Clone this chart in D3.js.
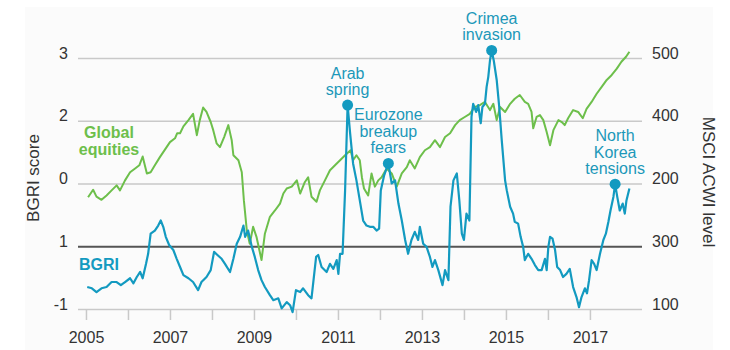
<!DOCTYPE html>
<html>
<head>
<meta charset="utf-8">
<script src="https://cdn.jsdelivr.net/npm/d3@7"></script>
<style>
  body { margin: 0; background: #fff; }
  text { font-family: "Liberation Sans", Arial, sans-serif; }
</style>
</head>
<body>
<div id="chart"></div>
<script>
// BGRI (left scale) — [year, score]
const bgriDates = [
  2005.03, 2005.14, 2005.25, 2005.37, 2005.49, 2005.61, 2005.73, 2005.83, 2005.93, 2006.05,
  2006.13, 2006.21, 2006.29, 2006.35, 2006.43, 2006.48, 2006.54, 2006.64, 2006.72, 2006.78,
  2006.84, 2006.90, 2006.98, 2007.08, 2007.16, 2007.24, 2007.32, 2007.44, 2007.55, 2007.67,
  2007.75, 2007.87, 2007.97, 2008.05, 2008.13, 2008.23, 2008.31, 2008.43, 2008.51, 2008.59,
  2008.67, 2008.75, 2008.79, 2008.86, 2008.95, 2009.02, 2009.10, 2009.18, 2009.26, 2009.38,
  2009.46, 2009.58, 2009.66, 2009.78, 2009.86, 2009.92, 2010.00, 2010.10, 2010.17, 2010.29,
  2010.37, 2010.48, 2010.53, 2010.61, 2010.73, 2010.81, 2010.89, 2010.97, 2011.01, 2011.05,
  2011.11, 2011.17, 2011.23, 2011.29, 2011.36, 2011.44, 2011.52, 2011.60, 2011.68, 2011.76,
  2011.84, 2011.92, 2011.98, 2012.02, 2012.10, 2012.20, 2012.28, 2012.36, 2012.44, 2012.52,
  2012.60, 2012.67, 2012.75, 2012.83, 2012.91, 2012.95, 2013.03, 2013.11, 2013.19, 2013.25,
  2013.31, 2013.39, 2013.49, 2013.55, 2013.63, 2013.68, 2013.75, 2013.83, 2013.89, 2013.95,
  2014.00, 2014.06, 2014.13, 2014.18, 2014.22, 2014.29, 2014.34, 2014.40, 2014.44, 2014.50,
  2014.54, 2014.58, 2014.62, 2014.66, 2014.71, 2014.78, 2014.84, 2014.90, 2014.98, 2015.02,
  2015.10, 2015.17, 2015.21, 2015.29, 2015.35, 2015.41, 2015.45, 2015.53, 2015.61, 2015.69,
  2015.77, 2015.85, 2015.93, 2015.97, 2016.01, 2016.05, 2016.11, 2016.17, 2016.22, 2016.29,
  2016.36, 2016.44, 2016.52, 2016.60, 2016.68, 2016.74, 2016.80, 2016.88, 2016.93, 2016.98,
  2017.04, 2017.10, 2017.16, 2017.24, 2017.32, 2017.38, 2017.44, 2017.49, 2017.56, 2017.60,
  2017.65, 2017.71, 2017.78, 2017.83, 2017.87, 2017.94
];
const bgriValues = [
  -0.65, -0.67, -0.73, -0.67, -0.65, -0.57, -0.57, -0.62, -0.57, -0.51,
  -0.59, -0.49, -0.41, -0.51, -0.28, -0.12, 0.20, 0.25, 0.33, 0.41,
  0.31, 0.15, 0.02, -0.06, -0.20, -0.33, -0.46, -0.51, -0.57, -0.70,
  -0.57, -0.49, -0.38, -0.09, -0.14, -0.20, -0.28, -0.41, -0.20, 0.04,
  0.15, 0.33, 0.15, 0.25, -0.01, -0.17, -0.38, -0.54, -0.65, -0.78,
  -0.86, -0.83, -0.99, -0.89, -0.94, -1.05, -0.70, -0.73, -0.67, -0.78,
  -0.83, -0.17, -0.14, -0.33, -0.41, -0.28, -0.36, -0.22, -0.44, -0.12,
  -0.12, 0.89, 2.25, 1.80, 1.32, 1.05, 0.73, 0.41, 0.33, 0.31,
  0.31, 0.25, 0.28, 0.89, 1.13, 1.32, 1.00, 1.05, 0.68, 0.41,
  0.10, -0.12, 0.10, 0.23, 0.10, 0.31, 0.04, -0.01, -0.17, -0.33,
  -0.22, -0.38, -0.62, -0.38, -0.54, 0.63, 1.05, 1.16, 0.73, 0.20,
  0.10, 0.52, 0.41, 2.06, 2.27, 2.14, 2.25, 1.96, 2.22, 2.27,
  2.54, 2.70, 2.96, 3.12, 2.96, 2.65, 2.22, 1.69, 1.05, 0.89,
  0.63, 0.52, 0.39, 0.36, 0.15, -0.01, -0.22, -0.12, -0.20, -0.30,
  -0.38, -0.38, -0.20, -0.38, -0.01, 0.15, 0.12, -0.06, -0.33, -0.38,
  -0.49, -0.44, -0.36, -0.65, -0.81, -0.97, -0.81, -0.67, -0.75, -0.54,
  -0.22, -0.28, -0.38, -0.12, 0.10, 0.20, 0.39, 0.57, 0.79, 0.99,
  0.79, 0.57, 0.68, 0.52, 0.73, 0.92
];

// MSCI ACWI (right scale) — [year, level]
const msciDates = [
  2005.05, 2005.17, 2005.25, 2005.37, 2005.49, 2005.61, 2005.73, 2005.81, 2005.93, 2006.05,
  2006.17, 2006.27, 2006.35, 2006.45, 2006.54, 2006.64, 2006.76, 2006.88, 2007.00, 2007.12,
  2007.17, 2007.24, 2007.32, 2007.44, 2007.55, 2007.64, 2007.71, 2007.79, 2007.87, 2007.97,
  2008.03, 2008.11, 2008.19, 2008.29, 2008.39, 2008.47, 2008.51, 2008.63, 2008.71, 2008.76,
  2008.83, 2008.90, 2008.98, 2009.06, 2009.18, 2009.26, 2009.38, 2009.50, 2009.62, 2009.70,
  2009.78, 2009.90, 2010.02, 2010.10, 2010.21, 2010.29, 2010.37, 2010.49, 2010.57, 2010.69,
  2010.81, 2010.93, 2011.05, 2011.17, 2011.30, 2011.36, 2011.44, 2011.52, 2011.57, 2011.62,
  2011.72, 2011.80, 2011.88, 2011.96, 2012.04, 2012.16, 2012.28, 2012.40, 2012.52, 2012.64,
  2012.71, 2012.83, 2012.95, 2013.07, 2013.19, 2013.31, 2013.43, 2013.55, 2013.67, 2013.79,
  2013.90, 2014.02, 2014.14, 2014.26, 2014.38, 2014.50, 2014.62, 2014.70, 2014.78, 2014.86,
  2014.98, 2015.10, 2015.21, 2015.33, 2015.45, 2015.53, 2015.61, 2015.65, 2015.73, 2015.81,
  2015.89, 2015.97, 2016.05, 2016.13, 2016.25, 2016.33, 2016.40, 2016.48, 2016.60, 2016.72,
  2016.83, 2016.92, 2017.04, 2017.16, 2017.28, 2017.40, 2017.52, 2017.64, 2017.75, 2017.86,
  2017.94
];
const msciValues = [
  278, 290, 279, 274, 281, 289, 297, 289, 305, 318,
  324, 329, 343, 316, 318, 329, 342, 354, 366, 372,
  380, 380, 391, 401, 411, 377, 401, 421, 414, 398,
  385, 364, 358, 374, 393, 369, 345, 337, 318, 273,
  225, 204, 231, 215, 178, 220, 247, 257, 268, 284,
  292, 295, 305, 284, 302, 310, 279, 271, 289, 305,
  321, 329, 337, 345, 353, 337, 345, 337, 310, 292,
  281, 316, 295, 305, 310, 324, 316, 295, 316, 326,
  337, 324, 342, 353, 358, 369, 358, 374, 380, 393,
  401, 406, 411, 422, 425, 430, 417, 427, 401, 422,
  414, 427, 435, 441, 430, 427, 414, 388, 406, 409,
  401, 382, 361, 385, 401, 398, 393, 404, 417, 414,
  404, 419, 430, 443, 454, 465, 473, 483, 494, 502,
  510
];

const bgriTicks = [-1, 0, 1, 2, 3];
const bgriTickLabels = ["-1", "1", "0", "2", "3"];
const msciTicks = [100, 200, 300, 400, 500];
const msciTickLabels = ["100", "300", "200", "400", "500"];
const yearTicks = [2005, 2006, 2007, 2008, 2009, 2010, 2011, 2012, 2013, 2014, 2015, 2016, 2017];

const eventNames = [["Arab", "spring"], ["Eurozone", "breakup", "fears"], ["Crimea", "invasion"], ["North", "Korea", "tensions"]];
const eventDates = [2011.23, 2012.20, 2014.66, 2017.60];
const eventValues = [2.25, 1.32, 3.12, 0.99];

const width = 730;
const height = 350;
const teal = "#139ac0";
const tealText = "#1c98b9";
const green = "#6dbf4b";

const svg = d3.select("#chart")
  .append("svg")
  .attr("width", width)
  .attr("height", height);

svg.append("rect")
  .attr("x", 25).attr("y", 7)
  .attr("width", 688).attr("height", 343)
  .attr("fill", "#fbfbfb");

const x = d3.scaleLinear().domain([2004.81, 2018.24]).range([78, 642]);
const yL = d3.scaleLinear().domain([-1, 3]).range([309, 58]);
const yR = d3.scaleLinear().domain([100, 500]).range([309, 58]);

// left axis + gridlines
const gLeft = svg.append("g")
  .attr("transform", "translate(78,0)")
  .call(d3.axisLeft(yL)
    .tickValues(bgriTicks)
    .tickSize(-564)
    .tickPadding(10)
    .tickFormat((d, i) => bgriTickLabels[i]));
gLeft.select(".domain").remove();
gLeft.selectAll(".tick line")
  .attr("stroke", d => d === 0 ? "#555" : "#c9c9c9")
  .attr("stroke-width", d => d === 0 ? 2 : 1.5);
gLeft.selectAll(".tick text")
  .attr("y", -5)
  .attr("fill", "#333")
  .style("font-size", "16px");

// right axis labels
const gRight = svg.append("g")
  .attr("transform", "translate(642,0)")
  .call(d3.axisRight(yR)
    .tickValues(msciTicks)
    .tickSize(0)
    .tickPadding(10)
    .tickFormat((d, i) => msciTickLabels[i]));
gRight.select(".domain").remove();
gRight.selectAll(".tick text")
  .attr("y", -5)
  .attr("fill", "#333")
  .style("font-size", "16px");

// x axis
const gX = svg.append("g")
  .attr("transform", "translate(0,309)")
  .call(d3.axisBottom(x)
    .tickValues(yearTicks)
    .tickSize(11)
    .tickPadding(12)
    .tickFormat(d => d % 2 === 1 ? d : ""));
gX.select(".domain").remove();
gX.selectAll(".tick line").attr("stroke", "#c9c9c9").attr("stroke-width", 1.5);
gX.selectAll(".tick text")
  .attr("fill", "#333")
  .style("font-size", "16px");

// axis titles
svg.append("text")
  .attr("transform", "translate(39,178) rotate(-90)")
  .attr("text-anchor", "middle")
  .attr("fill", "#333")
  .style("font-size", "17px")
  .text("BGRI score");

svg.append("text")
  .attr("transform", "translate(703,182) rotate(90)")
  .attr("text-anchor", "middle")
  .attr("fill", "#333")
  .style("font-size", "17px")
  .text("MSCI ACWI level");

// lines
const msci = msciDates.map((d, i) => [d, msciValues[i]]);
const bgri = bgriDates.map((d, i) => [d, bgriValues[i]]);

svg.append("path")
  .datum(msci)
  .attr("fill", "none")
  .attr("stroke", green)
  .attr("stroke-width", 2)
  .attr("stroke-linejoin", "round")
  .attr("d", d3.line().x(d => x(d[0])).y(d => yR(d[1])));

svg.append("path")
  .datum(bgri)
  .attr("fill", "none")
  .attr("stroke", teal)
  .attr("stroke-width", 2.2)
  .attr("stroke-linejoin", "round")
  .attr("d", d3.line().x(d => x(d[0])).y(d => yL(d[1])));

// event markers
const events = eventDates.map((d, i) => ({ date: d, value: eventValues[i], lines: eventNames[i] }));

svg.selectAll("circle.event")
  .data(events)
  .join("circle")
  .attr("class", "event")
  .attr("cx", d => x(d.date))
  .attr("cy", d => yL(d.value))
  .attr("r", 5.5)
  .attr("fill", teal);

events.forEach(ev => {
  const n = ev.lines.length;
  svg.append("text")
    .attr("text-anchor", "middle")
    .attr("fill", tealText)
    .style("font-size", "16px")
    .selectAll("tspan")
    .data(ev.lines)
    .join("tspan")
    .attr("x", x(ev.date))
    .attr("y", (d, i) => yL(ev.value) - 10 - (n - 1 - i) * 16.5)
    .text(d => d);
});

// series labels
svg.append("text")
  .attr("text-anchor", "middle")
  .attr("fill", green)
  .style("font-size", "16px")
  .style("font-weight", "bold")
  .selectAll("tspan")
  .data(["Global", "equities"])
  .join("tspan")
  .attr("x", 109)
  .attr("y", (d, i) => 138 + i * 17)
  .text(d => d);

svg.append("text")
  .attr("x", 79)
  .attr("y", 270)
  .attr("fill", teal)
  .style("font-size", "16px")
  .style("font-weight", "bold")
  .text("BGRI");
</script>
</body>
</html>
